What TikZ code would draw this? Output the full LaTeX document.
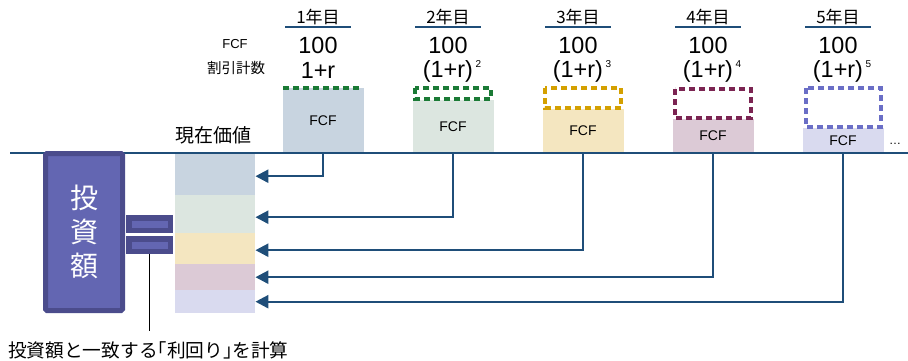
\documentclass[tikz,border=0pt]{standalone}
\usepackage{fontspec}
\setmainfont{Liberation Sans}
\newfontfamily\jp{Noto Sans CJK JP}
\usetikzlibrary{arrows.meta}

\definecolor{axisblue}{HTML}{1F4E79}
\definecolor{fillA}{HTML}{C8D4E0}
\definecolor{fillB}{HTML}{DCE6E0}
\definecolor{fillC}{HTML}{F4E6C0}
\definecolor{fillD}{HTML}{DCCAD6}
\definecolor{fillE}{HTML}{D9DAEF}
\definecolor{dashA}{HTML}{1A7A35}
\definecolor{dashC}{HTML}{D4A000}
\definecolor{dashD}{HTML}{7B2452}
\definecolor{dashE}{HTML}{6A6EC6}
\definecolor{invFill}{HTML}{6366B2}
\definecolor{invEdge}{HTML}{4B4C8C}

\tikzset{
  fcfbox/.style={fill=#1, draw=none, anchor=south, minimum width=81pt,
    inner sep=0pt, font=\fontsize{14}{14}\selectfont},
  pvbox/.style={fill=#1, draw=none, anchor=north west, minimum width=80pt,
    inner sep=0pt},
  dashbox/.style={draw=#1, line width=3.3pt, dash pattern=on 6pt off 4pt},
  axisline/.style={draw=axisblue, line width=2pt},
  yearhead/.style={font=\jp\fontsize{17}{17}\selectfont, inner sep=0pt},
  yearrule/.style={draw=axisblue, line width=2pt},
  bigtext/.style={font=\fontsize{23.4}{23.4}\selectfont, inner sep=0pt},
  flowarrow/.style={draw=axisblue, line width=2.4pt,
    -{Triangle[length=13pt,width=13pt]}},
  sidelabel/.style={font=\fontsize{13}{13}\selectfont, inner sep=0pt},
  eqbar/.style={fill=invFill, draw=invEdge, line width=5.5pt,
    minimum width=41.5pt, minimum height=12.5pt, inner sep=0pt},
}

\newcommand{\powlabel}[1]{(1+r)\hspace{2.5pt}\raisebox{9.5pt}{\fontsize{10}{10}\selectfont #1}}

\begin{document}
\begin{tikzpicture}[x=1pt,y=-1pt]
\useasboundingbox (0,0) rectangle (908,361);

% free cash flow boxes, one per year
\node[fcfbox=fillA, minimum height=65pt] (fcf1) at (323,153) {FCF};
\node[fcfbox=fillB, minimum height=53pt] (fcf2) at (453,153) {FCF};
\node[fcfbox=fillC, minimum height=44pt] (fcf3) at (583,153) {FCF};
\node[fcfbox=fillD, minimum height=34pt] (fcf4) at (713,153) {FCF};
\node[fcfbox=fillE, minimum height=25pt] (fcf5) at (843,153) {FCF};

% discounted part shown as dotted outlines
\draw[dashbox=dashA] (283,88) -- (362,88);
\draw[dashbox=dashA] (415,88) rectangle (491,99);
\draw[dashbox=dashC] (545,88) rectangle (621,108);
\draw[dashbox=dashD] (675,89) rectangle (751,118);
\draw[dashbox=dashE] (806,88) rectangle (881,127);

% year headers
\foreach \n/\cx in {1/318,2/448,3/578,4/708,5/838}{
  \node[yearhead] (year\n) at (\cx,17) {\n 年目};
  \draw[yearrule] (\cx-33,27) -- (\cx+33,27);
  \node[bigtext] (num\n) at (\cx,45.5) {100};
}
\node[bigtext] (den1) at (318,70) {1+r};
\node[bigtext] (den2) at (452,71) {\powlabel{2}};
\node[bigtext] (den3) at (582,71) {\powlabel{3}};
\node[bigtext] (den4) at (712,71) {\powlabel{4}};
\node[bigtext] (den5) at (842,71) {\powlabel{5}};

\node[sidelabel] (fcflabel) at (235,44) {FCF};
\node[sidelabel, font=\jp\fontsize{14.5}{14.5}\selectfont] (ratelabel) at (236,68) {割引計数};

% present value stack
\node[pvbox=fillA, minimum height=43pt] (pv1) at (175,152) {};
\node[pvbox=fillB, minimum height=38pt] (pv2) at (175,195) {};
\node[pvbox=fillC, minimum height=31pt] (pv3) at (175,233) {};
\node[pvbox=fillD, minimum height=26pt] (pv4) at (175,264) {};
\node[pvbox=fillE, minimum height=23pt] (pv5) at (175,290) {};
\node[font=\jp\fontsize{19}{19}\selectfont, inner sep=0pt] (pvlabel) at (213.5,135) {現在価値};

% time axis
\coordinate (axisL) at (10,153);
\coordinate (axisR) at (908,153);
\draw[axisline] (axisL) -- (axisR);
\node[font=\fontsize{12}{12}\selectfont, inner sep=0pt] (more) at (895,144) {…};

% discounting arrows back to present value
\draw[flowarrow] (fcf1.south) |- ([yshift=-2.5pt]pv1.east);
\draw[flowarrow] (fcf2.south) |- ([yshift=-3pt]pv2.east);
\draw[flowarrow] (fcf3.south) |- ([yshift=-1.5pt]pv3.east);
\draw[flowarrow] (fcf4.south) |- (pv4.east);
\draw[flowarrow] (fcf5.south) |- (pv5.east);

% investment amount
\node[fill=invFill, draw=invEdge, line width=5pt, rounded corners=1.5pt,
      minimum width=77pt, minimum height=157pt, inner sep=0pt,
      text=white, align=center,
      font=\jp\fontsize{28}{34}\selectfont] (inv) at (84,232) {投\\資\\額};

% equals sign
\node[eqbar] (eq1) at (149.5,224) {};
\node[eqbar] (eq2) at (149.5,245) {};

% note
\coordinate (noteTop) at (149.5,331);
\draw[line width=1.5pt] (eq2.south) -- (noteTop);
\node[anchor=west, inner sep=0pt, font=\jp\fontsize{18.7}{18.7}\selectfont] (note) at (8,350) {投資額と一致する｢利回り｣を計算};
\end{tikzpicture}
\end{document}
